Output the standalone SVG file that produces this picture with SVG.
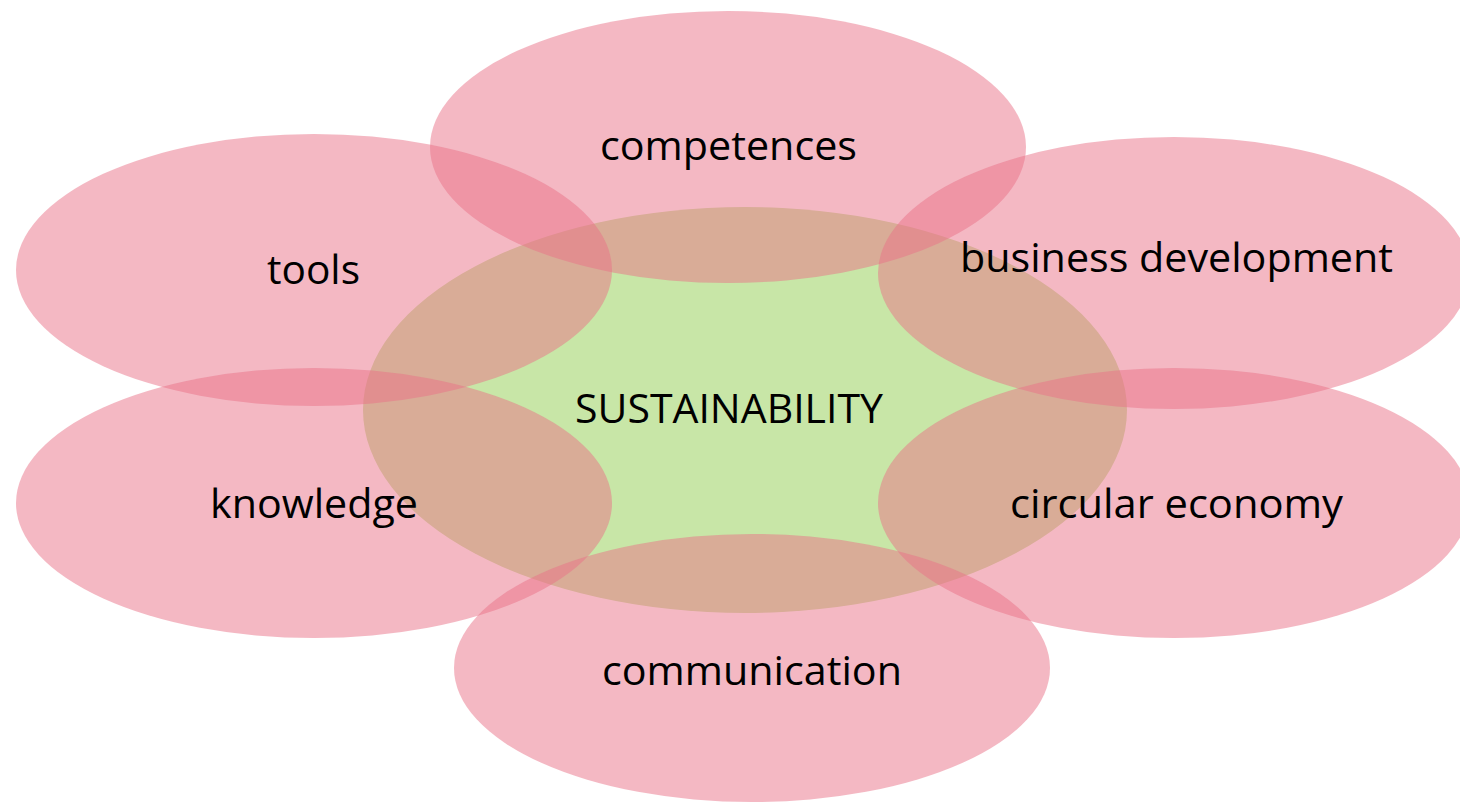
<svg xmlns="http://www.w3.org/2000/svg" width="1460" height="802" viewBox="0 0 1460 802">
<style>
.bg{fill:#ffffff}
.core{fill:#C8E6A7}
.petal{fill:#E97187;fill-opacity:0.5}
.lbl{font-family:"Open Sans","Liberation Sans",sans-serif;font-size:40px;fill:#000000;text-anchor:middle}
</style>
<rect class="bg" x="0" y="0" width="1460" height="802"/>
<g id="node-sustainability">
<ellipse class="core" cx="745" cy="410" rx="382" ry="203"/>
</g>
<g id="node-competences">
<ellipse class="petal" cx="728" cy="147" rx="298" ry="136"/>
</g>
<g id="node-tools">
<ellipse class="petal" cx="314" cy="270" rx="298" ry="136"/>
</g>
<g id="node-business-development">
<ellipse class="petal" cx="1174" cy="273" rx="296" ry="136"/>
</g>
<g id="node-knowledge">
<ellipse class="petal" cx="314" cy="503" rx="298" ry="135"/>
</g>
<g id="node-circular-economy">
<ellipse class="petal" cx="1174" cy="503" rx="296" ry="135"/>
</g>
<g id="node-communication">
<ellipse class="petal" cx="752" cy="668" rx="298" ry="134"/>
</g>
<g id="connectors"></g>
<g id="labels">
<text class="lbl" x="729" y="423" textLength="308" lengthAdjust="spacingAndGlyphs">SUSTAINABILITY</text>
<text class="lbl" x="728.5" y="160" textLength="257" lengthAdjust="spacingAndGlyphs">competences</text>
<text class="lbl" x="313.5" y="284" textLength="93" lengthAdjust="spacingAndGlyphs">tools</text>
<text class="lbl" x="1176.5" y="272" textLength="433" lengthAdjust="spacingAndGlyphs">business development</text>
<text class="lbl" x="314" y="518" textLength="208" lengthAdjust="spacingAndGlyphs">knowledge</text>
<text class="lbl" x="1176.5" y="518" textLength="333" lengthAdjust="spacingAndGlyphs">circular economy</text>
<text class="lbl" x="752" y="685" textLength="300" lengthAdjust="spacingAndGlyphs">communication</text>
</g>
</svg>
